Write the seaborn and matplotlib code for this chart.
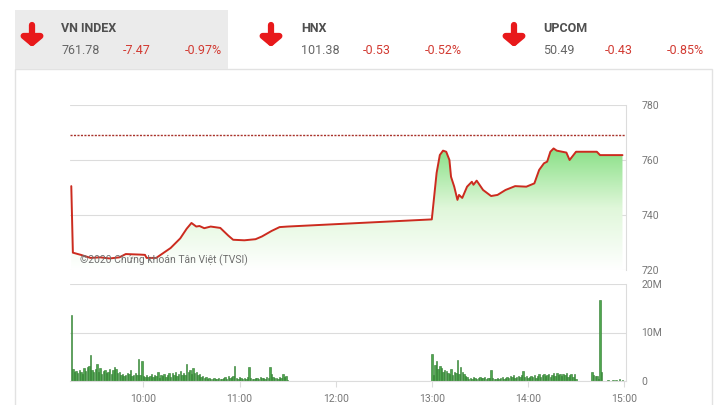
import numpy as np
import pandas as pd
import matplotlib
matplotlib.use("Agg")
import matplotlib.pyplot as plt
import seaborn as sns
from matplotlib.patches import Rectangle

# Header quotes
idx_names = ["VN INDEX", "HNX", "UPCOM"]
idx_values = ["761.78", "101.38", "50.49"]
idx_changes = ["-7.47", "-0.53", "-0.43"]
idx_pcts = ["-0.97%", "-0.52%", "-0.85%"]

ref_price = 769.25

# Intraday VN-Index (time, value)
price_times = [
    "09:15", "09:16", "09:21", "09:27", "09:33", "09:39", "09:45", "09:49", "09:58",
    "10:01", "10:02", "10:08", "10:10", "10:17", "10:23", "10:27", "10:30", "10:33",
    "10:35", "10:38", "10:42", "10:48", "10:53", "10:56", "11:03", "11:10", "11:14",
    "11:20", "11:25", "11:30",
    "13:00", "13:03", "13:05", "13:07", "13:09", "13:11", "13:12", "13:14", "13:16",
    "13:17", "13:19", "13:22", "13:25", "13:26", "13:28", "13:32", "13:37", "13:41",
    "13:46", "13:52", "13:59", "14:04", "14:07", "14:10", "14:12", "14:14", "14:16",
    "14:18", "14:24", "14:26", "14:30", "14:43", "14:45", "14:59",
]
price_values = [
    750.5, 726.3, 725.5, 724.4, 724.6, 724.2, 724.6, 725.8, 725.6,
    725.5, 724.4, 724.4, 725.2, 728.0, 731.5, 735.0, 737.1, 735.8,
    736.0, 735.2, 735.8, 735.3, 732.5, 731.0, 730.8, 731.2, 732.2,
    734.2, 735.6, 735.8,
    738.4, 755.3, 761.8, 763.4, 763.0, 760.0, 753.9, 750.3, 745.5,
    747.3, 746.2, 750.3, 752.1, 751.0, 752.5, 749.1, 746.9, 747.3,
    749.1, 750.5, 750.3, 751.5, 756.4, 758.8, 759.4, 763.0, 764.2,
    763.4, 762.7, 760.0, 763.0, 763.0, 761.78, 761.78,
]

# Volume per minute (millions)
vol_am_start = "09:15"
vol_am = [
    13.7, 2.4, 1.8, 2.0, 1.6, 2.3, 1.9, 1.5, 2.6, 2.1,
    2.8, 3.0, 5.4, 2.2, 1.8, 2.5, 3.6, 1.9, 2.7, 1.4,
    2.0, 2.3, 1.6, 1.8, 2.4, 1.5, 2.2, 2.8, 2.5, 1.7,
    1.9, 1.3, 1.5, 1.0, 1.2, 1.6, 1.4, 2.2, 1.1, 1.3,
    1.6, 1.2, 4.6, 1.3, 4.2, 1.0, 0.8, 1.2, 0.9, 1.1,
    1.5, 0.8, 1.3, 1.0, 1.9, 0.7, 1.2, 1.0, 1.4, 0.9,
    1.3, 1.7, 0.9, 1.6, 1.2, 1.8, 1.0, 1.5, 2.1, 1.3,
    1.6, 1.2, 3.5, 1.8, 2.3, 1.4, 2.6, 1.7, 1.9, 1.2,
    1.5, 0.9, 1.0, 0.7, 0.8, 0.5, 0.6, 0.4, 0.5, 0.6,
    0.4, 0.5, 0.7, 0.5, 0.4, 0.6, 0.8, 0.5, 1.0, 0.6,
    0.9, 1.1, 3.1, 0.7, 0.5, 0.8, 0.6, 0.4, 0.7, 0.5,
    0.8, 2.9, 0.6, 0.5, 0.4, 0.7, 0.6, 0.5, 0.9, 0.6,
    0.7, 0.5, 0.8, 0.6, 2.8, 1.5, 0.9, 0.6, 0.7, 0.5,
    0.8, 0.6, 1.4, 0.9, 1.1, 0.3,
]
vol_pm_start = "13:00"
vol_pm = [
    5.6, 1.2, 3.4, 4.2, 2.5, 3.0, 2.7, 1.8, 2.2, 2.0,
    1.7, 1.5, 2.4, 1.3, 1.8, 1.6, 4.4, 1.4, 2.9, 1.9,
    1.5, 1.0, 0.8, 0.5, 0.6, 0.4, 0.9, 0.7, 0.5, 0.6,
    0.8, 0.6, 0.7, 0.9, 0.5, 0.7, 0.6, 2.3, 0.6, 0.5,
    0.4, 0.6, 0.5, 0.7, 0.8, 0.4, 0.6, 0.9, 0.7, 1.0,
    0.8, 1.2, 0.7, 0.9, 1.1, 0.8, 1.3, 2.0, 0.9, 1.1,
    0.7, 0.9, 1.0, 0.8, 1.2, 0.6, 1.1, 1.4, 0.9, 1.3,
    1.5, 1.0, 1.2, 1.4, 0.9, 1.3, 1.6, 1.1, 1.7, 1.2,
    1.4, 1.0, 1.5, 1.3, 1.7, 0.8, 1.2, 1.5, 0.9, 1.4,
    0.5,
]
vol_late_times = ["14:32", "14:40", "14:41", "14:42", "14:43", "14:44", "14:45",
                  "14:46", "14:50", "14:53", "14:55", "14:57", "14:59"]
vol_late = [0.1, 1.9, 1.3, 1.0, 1.1, 0.4, 16.7, 1.8, 0.2, 0.3, 0.2, 0.4, 0.3]

time_ticks = ["10:00", "11:00", "12:00", "13:00", "14:00", "15:00"]


def to_min(s):
    h, m = s.split(":")
    return int(h) * 60 + int(m)


price_df = pd.DataFrame({"t": [to_min(s) for s in price_times], "v": price_values})
vol_t = ([to_min(vol_am_start) + i for i in range(len(vol_am))]
         + [to_min(vol_pm_start) + i for i in range(len(vol_pm))]
         + [to_min(s) for s in vol_late_times])
vol_df = pd.DataFrame({"t": vol_t, "v": vol_am + vol_pm + vol_late})

sns.set_style("white")
plt.rcParams["font.family"] = ["Roboto", "DejaVu Sans"]

W, H = 720, 405
fig = plt.figure(figsize=(7.2, 4.05), dpi=100)

# overlay in pixel coordinates for header / frame
ov = fig.add_axes([0, 0, 1, 1], zorder=0)
ov.set_xlim(0, W)
ov.set_ylim(H, 0)
ov.axis("off")
ov.add_patch(Rectangle((15, 69), 697, 345, facecolor="white", edgecolor="#e2e2e2", lw=1))
ov.add_patch(Rectangle((15, 10), 213, 59, facecolor="#ebebeb", edgecolor="none"))

grey = "#666666"
red = "#d23a32"
hx = [32, 271, 514]
tx = [61, 301, 543]
for i in range(3):
    ov.annotate("", xy=(hx[i], 47), xytext=(hx[i], 25),
                arrowprops=dict(arrowstyle="-|>,head_width=0.6,head_length=0.5",
                                lw=4.5, color="#e8191b", shrinkA=0, shrinkB=0))
    ov.text(tx[i], 28, idx_names[i], fontsize=9, fontweight="bold", color="#505050",
            va="center", ha="left")
    ov.text(tx[i], 51, idx_values[i], fontsize=9, color=grey, va="center", ha="left")
    ov.text(tx[i] + 62, 51, idx_changes[i], fontsize=9, color=red, va="center", ha="left")
    ov.text(tx[i] + 124, 51, idx_pcts[i], fontsize=9, color=red, va="center", ha="left")

xmin, xmax = 554.2, 901.2
gc = "#dcdcdc"

# price panel
ax = fig.add_axes([70 / W, 1 - 270 / H, 556 / W, 165 / H], zorder=2)
ax.patch.set_alpha(0)
ax.set_xlim(xmin, xmax)
ax.set_ylim(720, 780)
poly = ax.fill_between(price_df["t"], price_df["v"], 720, facecolor="none", edgecolor="none")
grad = np.linspace(0, 1, 256).reshape(-1, 1)
cmap = matplotlib.colors.LinearSegmentedColormap.from_list("g", ["#ffffff", "#e0f7da", "#86df83"])
im = ax.imshow(grad, extent=[xmin, xmax, 720, 765], origin="lower", aspect="auto",
               cmap=cmap, zorder=1)
im.set_clip_path(poly.get_paths()[0], transform=ax.transData)
ax.set_xlim(xmin, xmax)
ax.set_ylim(720, 780)
sns.lineplot(data=price_df, x="t", y="v", ax=ax, color="#cc2b1f", lw=1.4, zorder=3)
ax.axhline(ref_price, color="#a8322a", lw=1, ls=(0, (1.5, 1)), zorder=3)
ax.set_yticks([720, 740, 760, 780])
ax.yaxis.tick_right()
ax.grid(axis="y", color=gc, lw=0.8)
ax.set_xticks([])
ax.tick_params(axis="y", length=0, pad=11, labelsize=7.5, labelcolor="#777777")
ax.set_xlabel("")
ax.set_ylabel("")
for s in ["left", "top", "bottom"]:
    ax.spines[s].set_visible(False)
ax.spines["right"].set_color(gc)
ax.text(0.018, 0.04, "©2020 Chứng khoán Tân Việt (TVSI)", transform=ax.transAxes,
        fontsize=7.5, color="#707070", zorder=4)

# volume panel
ax2 = fig.add_axes([70 / W, 1 - 381 / H, 556 / W, 97 / H], zorder=2)
ax2.patch.set_alpha(0)
ax2.bar(vol_df["t"], vol_df["v"], width=0.9, color="#4fa64f", edgecolor="#2d7a2d",
        linewidth=0.4, zorder=2)
ax2.set_xlim(xmin, xmax)
ax2.set_ylim(0, 20)
ax2.set_yticks([0, 10, 20])
ax2.set_yticklabels(["0", "10M", "20M"])
ax2.yaxis.tick_right()
ax2.grid(axis="y", color=gc, lw=0.8)
ax2.set_xticks([to_min(s) for s in time_ticks])
ax2.set_xticklabels(time_ticks)
ax2.tick_params(axis="y", length=0, pad=11, labelsize=7.5, labelcolor="#777777")
ax2.tick_params(axis="x", length=4, color=gc, pad=5, labelsize=7.5, labelcolor="#777777",
                bottom=True)
for s in ["left", "top"]:
    ax2.spines[s].set_visible(False)
ax2.spines["right"].set_color(gc)
ax2.spines["bottom"].set_color(gc)

fig.savefig("out.png", dpi=100)
